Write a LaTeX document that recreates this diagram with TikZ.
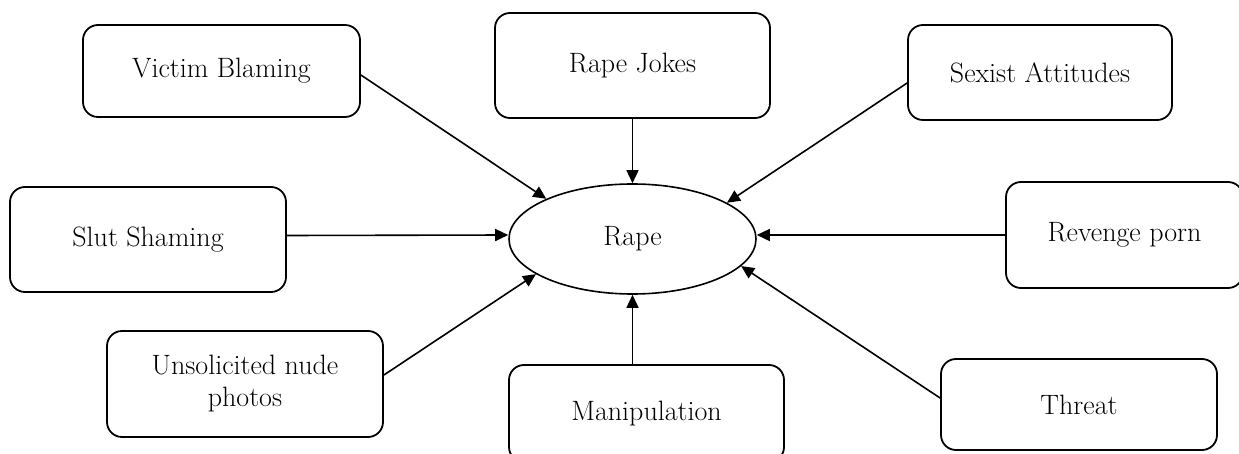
\documentclass[tikz,border=0pt]{standalone}
\usepackage{fontspec}
\setmainfont{Latin Modern Roman}
\usetikzlibrary{arrows.meta,shapes.geometric}
\begin{document}
\begin{tikzpicture}[x=1pt,y=-1pt,
  box/.style={draw,line width=1.8pt,rounded corners=15pt,inner sep=0pt,align=center,font=\fontsize{28}{32}\selectfont},
  conn/.style={line width=1.6pt,-{Triangle[length=13pt,width=12pt]}}]
\useasboundingbox (0,0) rectangle (1239,454);
\node[box,minimum width=277pt,minimum height=92pt] (vb) at (221.5,71) {Victim Blaming};
\node[box,minimum width=275pt,minimum height=105pt] (rj) at (632.5,65.5) {Rape Jokes};
\node[box,minimum width=264pt,minimum height=95pt] (sa) at (1040,72.5) {Sexist Attitudes};
\node[box,minimum width=276pt,minimum height=105pt] (ss) at (148,239.5) {Slut Shaming};
\node[box,minimum width=276pt,minimum height=106pt] (un) at (245,384) {Unsolicited nude\\photos};
\node[box,minimum width=275pt,minimum height=97pt] (mp) at (646.5,413.5) {Manipulation};
\node[box,minimum width=237pt,minimum height=106pt] (rp) at (1124.5,235) {Revenge porn};
\node[box,minimum width=276pt,minimum height=91pt] (th) at (1079,404.5) {Threat};
\node[draw,line width=1.6pt,ellipse,inner sep=0pt,minimum width=247pt,minimum height=110pt,font=\fontsize{28}{32}\selectfont] (rape) at (632.5,239) {Rape};
\draw[conn] ([yshift=-4pt]vb.east) -- (rape.155);
\draw[conn] (rj.south) -- (rape.north);
\draw[conn] ([yshift=-10.5pt]sa.west) -- (rape.21);
\draw[conn] ([yshift=4pt]ss.east) -- ([yshift=4pt]rape.west);
\draw[conn] (rp.west) -- ([yshift=4pt]rape.east);
\draw[conn] ([yshift=9pt]un.east) -- (rape.200);
\draw[conn] (rape.south |- mp.north) -- (rape.south);
\draw[conn] ([yshift=6.5pt]th.west) -- (rape.-14);
\end{tikzpicture}
\end{document}
